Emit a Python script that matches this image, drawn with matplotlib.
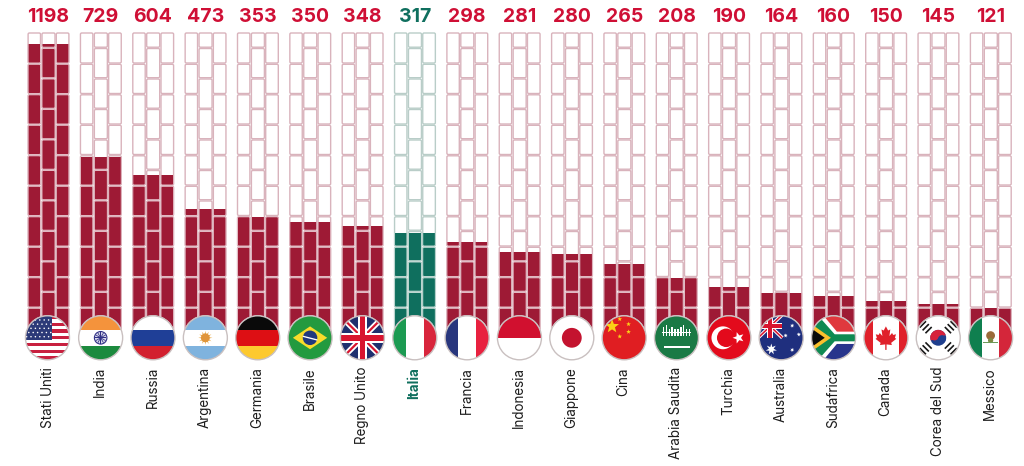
import numpy as np
import matplotlib
matplotlib.use("Agg")
import matplotlib.pyplot as plt
from matplotlib.patches import FancyBboxPatch, Circle, Rectangle, Polygon, Wedge

countries = ["Stati Uniti", "India", "Russia", "Argentina", "Germania", "Brasile", "Regno Unito",
             "Italia", "Francia", "Indonesia", "Giappone", "Cina", "Arabia Saudita", "Turchia",
             "Australia", "Sudafrica", "Canada", "Corea del Sud", "Messico"]
values = [1198, 729, 604, 473, 353, 350, 348, 317, 298, 281, 280, 265, 208, 190, 164, 160, 150, 145, 121]
# how full each wall is, in percent (not proportional to the numbers)
fill_pct = [96.4, 59.6, 53.7, 42.7, 40.1, 38.4, 37.1, 34.9, 31.9, 28.7, 28.0, 24.8, 20.2, 17.3, 15.3, 14.3, 12.7, 11.7, 10.4]

RED = "#9e1a35"
GREEN = "#0f6f5e"
TEXT_RED = "#cf0f35"
FONT = "Inter"

fig = plt.figure(figsize=(10.24, 4.66), dpi=100)
ax = fig.add_axes([0, 0, 1, 1])
ax.set_xlim(0, 1024)
ax.set_ylim(466, 0)
ax.axis("off")

# wall axes: percent scale between base and top of the brick wall
BASE, TOP = 340, 33
wall = fig.add_axes([0, (466 - BASE) / 466, 1, (BASE - TOP) / 466])
wall.set_xlim(0, 1024)
wall.set_ylim(0, 100)
wall.axis("off")
wall.patch.set_alpha(0)

centers = 48.3 + 52.35 * np.arange(len(countries))
bars = wall.bar(centers, fill_pct, width=46, color="none", edgecolor="none")


def brick_rows(first_end):
    rows = [(33, first_end)]
    y = first_end + 1.3
    while y < BASE:
        rows.append((y, min(y + 29.2, BASE)))
        y += 30.5
    return rows


def brick(x0, y0, x1, y1, face, edge, clip=None, z=2, lw=1.0):
    p = FancyBboxPatch((x0, y0), x1 - x0, y1 - y0, boxstyle="round,pad=0,rounding_size=1.3",
                       facecolor=face, edgecolor=edge, linewidth=lw, zorder=z)
    ax.add_patch(p)
    if clip is not None:
        p.set_clip_path(clip)


for i, cx in enumerate(centers):
    fill = GREEN if countries[i] == "Italia" else RED
    pale = "#b9cdc8" if countries[i] == "Italia" else "#d9b3bc"
    seam = "#bfd8d2" if countries[i] == "Italia" else "#e3bcc5"
    for dx0, dx1, first_end in [(-20.2, -7.8, 63), (-6.3, 6.7, 47.2), (8.0, 20.6, 63)]:
        for y0, y1 in brick_rows(first_end):
            brick(cx + dx0, y0, cx + dx1, y1, "white", pale)
            brick(cx + dx0, y0, cx + dx1, y1, fill, seam, clip=bars[i], z=3, lw=0.7)


class Flag:
    def __init__(self, cx, cy=337.8, r=22):
        self.cx, self.cy, self.r = cx, cy, r
        self.clip = Circle((cx, cy), r, transform=ax.transData)

    def pt(self, u, v):
        return (self.cx + u * self.r, self.cy - v * self.r)

    def add(self, p):
        p.set_zorder(5)
        p.set_linewidth(0)
        ax.add_patch(p)
        p.set_clip_path(self.clip)

    def rect(self, u0, v0, u1, v1, c):
        x0, y0 = self.pt(u0, v0)
        x1, y1 = self.pt(u1, v1)
        self.add(Rectangle((x0, y0), x1 - x0, y1 - y0, facecolor=c))

    def poly(self, pts, c):
        self.add(Polygon([self.pt(*q) for q in pts], closed=True, facecolor=c))

    def circ(self, u, v, r, c):
        self.add(Circle(self.pt(u, v), r * self.r, facecolor=c))

    def star(self, u, v, r, c, n=5, rot=90):
        pts = []
        for k in range(2 * n):
            a = np.radians(rot + k * 180 / n)
            rr = r if k % 2 == 0 else r * 0.42
            pts.append((u + rr * np.cos(a), v + rr * np.sin(a)))
        self.poly(pts, c)

    def line(self, p0, p1, w, c):
        d = np.array(p1) - np.array(p0)
        n = np.array([-d[1], d[0]]) / np.hypot(*d) * w / 2
        self.poly([p0 + n, p1 + n, p1 - n, p0 - n], c)

    def hbands(self, c1, c2, c3, b=0.35):
        self.rect(-1, b, 1, 1, c1)
        self.rect(-1, -b, 1, b, c2)
        self.rect(-1, -1, 1, -b, c3)

    def vbands(self, c1, c2, c3, b=0.35):
        self.rect(-1, -1, -b, 1, c1)
        self.rect(-b, -1, b, 1, c2)
        self.rect(b, -1, 1, 1, c3)

    def ring(self):
        ax.add_patch(Circle((self.cx, self.cy), self.r, facecolor="none", edgecolor="#c9c0c0",
                            linewidth=1.0, zorder=8))


def union_jack(f, u0, v0, u1, v1, bw=0.1, rw=0.045):
    um, vm = (u0 + u1) / 2, (v0 + v1) / 2
    a, b, c, d = np.array([u0, v0]), np.array([u1, v1]), np.array([u0, v1]), np.array([u1, v0])
    f.line(a, b, bw * 2, "white")
    f.line(c, d, bw * 2, "white")
    f.line(a, b, rw * 2, "#d8142f")
    f.line(c, d, rw * 2, "#d8142f")
    f.rect(um - bw * 1.7, v0, um + bw * 1.7, v1, "white")
    f.rect(u0, vm - bw * 1.7, u1, vm + bw * 1.7, "white")
    f.rect(um - bw, v0, um + bw, v1, "#d8142f")
    f.rect(u0, vm - bw, u1, vm + bw, "#d8142f")


def usa(f):
    f.rect(-1, -1, 1, 1, "white")
    for k in range(0, 13, 2):
        top = 1 - k * 2 / 13
        f.rect(-1, top - 2 / 13, 1, top, "#c8203f")
    f.rect(-1, -0.09, 0.2, 1, "#2c3a78")
    for a, v in enumerate(np.arange(0.05, 1, 0.19)):
        for u in np.arange(-0.95 + 0.1 * (a % 2), 0.2, 0.2):
            f.circ(u, v, 0.035, "white")


def india(f):
    f.hbands("#f4933c", "white", "#1c8a3e")
    f.circ(0, 0, 0.31, "#2f2f85")
    f.circ(0, 0, 0.26, "#d8d8ea")
    for k in range(12):
        a = k * np.pi / 6
        f.line(np.array([0, 0]), np.array([0.26 * np.cos(a), 0.26 * np.sin(a)]), 0.035, "#2f2f85")


def russia(f):
    f.hbands("white", "#1f3f97", "#d2202f")


def argentina(f):
    f.hbands("#7fb3de", "white", "#7fb3de")
    f.star(0, 0, 0.32, "#e9a63c", n=12)
    f.circ(0, 0, 0.2, "#e0953a")


def germany(f):
    f.hbands("#0a0a0a", "#dd0f14", "#fdc92f")


def brazil(f):
    f.rect(-1, -1, 1, 1, "#239a3f")
    f.poly([(-0.78, 0), (0, 0.52), (0.78, 0), (0, -0.52)], "#f7dc2b")
    f.circ(0, 0, 0.33, "#20397e")
    f.line(np.array([-0.33, 0.07]), np.array([0.33, -0.1]), 0.06, "white")


def uk(f):
    f.rect(-1, -1, 1, 1, "#1f2f6e")
    union_jack(f, -1, -1, 1, 1, 0.13, 0.05)


def italy(f):
    f.vbands("#1c9a52", "white", "#d8263c", 0.42)


def france(f):
    f.vbands("#28367d", "white", "#e8213f", 0.42)


def indonesia(f):
    f.rect(-1, 0, 1, 1, "#d1102f")
    f.rect(-1, -1, 1, 0, "white")


def japan(f):
    f.rect(-1, -1, 1, 1, "white")
    f.circ(0, 0, 0.45, "#c4132f")


def china(f):
    f.rect(-1, -1, 1, 1, "#e01e22")
    f.star(-0.55, 0.52, 0.33, "#fbd116")
    for u, v in [(-0.2, 0.85), (0.2, 0.62), (0.2, 0.27), (-0.2, 0.06)]:
        f.star(u, v, 0.11, "#fbd116")


def saudi(f):
    f.rect(-1, -1, 1, 1, "#1a7a45")
    for u in np.arange(-0.62, 0.65, 0.13):
        h = 0.14 + 0.1 * (int(u * 100) % 3)
        f.rect(u, 0.1, u + 0.07, 0.1 + h + 0.15, "white")
    f.rect(-0.65, 0.2, 0.65, 0.27, "white")
    f.rect(-0.55, -0.45, 0.6, -0.39, "white")


def turkey(f):
    f.rect(-1, -1, 1, 1, "#e30a1c")
    f.circ(-0.27, 0, 0.52, "white")
    f.circ(-0.12, 0, 0.42, "#e30a1c")
    f.star(0.44, 0, 0.27, "white", rot=180)


def australia(f):
    f.rect(-1, -1, 1, 1, "#1f2f7e")
    union_jack(f, -1.05, 0, 0.05, 1.05, 0.08, 0.035)
    f.star(-0.45, -0.52, 0.26, "white", n=7)
    for u, v in [(0.5, 0.55), (0.8, 0.15), (0.2, 0.1), (0.5, -0.55)]:
        f.star(u, v, 0.1, "white", n=7)


def south_africa(f):
    f.rect(-1, 0, 1, 1, "#e0393e")
    f.rect(-1, -1, 1, 0, "#28358c")
    f.poly([(-1, 1), (-0.45, 1), (0.15, 0.28), (1, 0.28), (1, -0.28), (0.15, -0.28), (-0.45, -1), (-1, -1)], "white")
    f.poly([(-1, 0.95), (-0.65, 0.95), (0.05, 0.16), (1, 0.16), (1, -0.16), (0.05, -0.16), (-0.65, -0.95), (-1, -0.95)], "#0f8a52")
    f.poly([(-1, 0.62), (-0.12, 0), (-1, -0.62)], "#fbc02d")
    f.poly([(-1, 0.42), (-0.4, 0), (-1, -0.42)], "#0a0a0a")


def canada(f):
    f.rect(-1, -1, 1, 1, "white")
    f.rect(-1, -1, -0.58, 1, "#e0202a")
    f.rect(0.58, -1, 1, 1, "#e0202a")
    leaf = [(0, 0.52), (0.1, 0.33), (0.2, 0.38), (0.16, 0.08), (0.28, 0.22), (0.33, 0.13), (0.46, 0.16),
            (0.41, 0.0), (0.47, -0.05), (0.24, -0.23), (0.27, -0.33), (0.03, -0.3), (0.03, -0.55),
            (-0.03, -0.55), (-0.03, -0.3), (-0.27, -0.33), (-0.24, -0.23), (-0.47, -0.05), (-0.41, 0.0),
            (-0.46, 0.16), (-0.33, 0.13), (-0.28, 0.22), (-0.16, 0.08), (-0.2, 0.38), (-0.1, 0.33)]
    f.poly(leaf, "#e0202a")


def korea(f):
    f.rect(-1, -1, 1, 1, "white")
    f.circ(0, 0, 0.36, "#1f3f8e")
    x, y = f.pt(0, 0)
    w = Wedge((x, y), 0.36 * f.r, 160, 340, facecolor="#d6213c")
    f.add(w)
    f.circ(-0.17, 0.06, 0.18, "#d6213c")
    f.circ(0.17, -0.06, 0.18, "#1f3f8e")
    for su, sv in [(-1, 1), (1, 1), (-1, -1), (1, -1)]:
        c = np.array([su * 0.57, sv * 0.48])
        d = np.array([su, -sv]) * 0.17 / 1.2
        e = np.array([su, sv]) * 0.1
        for k in (-1.3, 0, 1.3):
            f.line(c + e * k - d, c + e * k + d, 0.075, "#161616")


def mexico(f):
    f.vbands("#0f7f4f", "white", "#d4263a", 0.4)
    f.circ(0, 0.1, 0.2, "#9b6a3a")
    f.circ(0, -0.12, 0.12, "#7e8a44")
    f.rect(-0.34, -0.24, 0.34, -0.17, "#6c9a5a")


flag_funcs = [usa, india, russia, argentina, germany, brazil, uk, italy, france, indonesia, japan,
              china, saudi, turkey, australia, south_africa, canada, korea, mexico]

for i, cx in enumerate(centers):
    f = Flag(cx - 0.8 if i == 0 else cx)
    ax.add_patch(Circle((f.cx, f.cy), f.r + 0.5, facecolor="white", edgecolor="none", zorder=4))
    flag_funcs[i](f)
    f.ring()

    is_it = countries[i] == "Italia"
    ax.text(cx, 17, str(values[i]), ha="center", va="center", fontsize=14, fontweight="bold",
            color=GREEN if is_it else TEXT_RED, family=FONT)
    ax.text(cx - 0.5, 367, countries[i], rotation=90, ha="center", va="top", fontsize=9.7,
            color=GREEN if is_it else "#1c1c1c", fontweight="bold" if is_it else "normal", family=FONT)

fig.savefig("out.png", dpi=100, facecolor="white")
